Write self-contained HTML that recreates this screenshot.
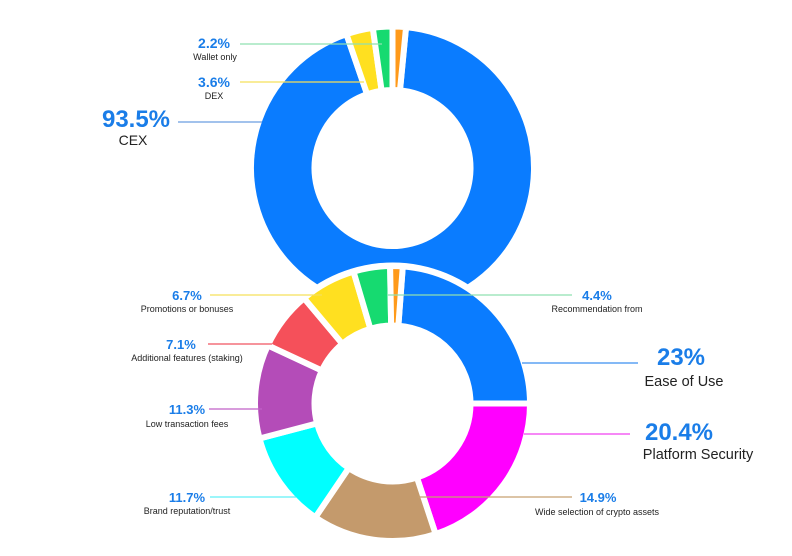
<!DOCTYPE html>
<html><head><meta charset="utf-8"><style>
html,body{margin:0;padding:0;background:#fff;}
svg{display:block;font-family:"Liberation Sans",sans-serif;}
.p{fill:#1a7de8;font-weight:bold;}
.l{fill:#222;}
</style></head><body>
<svg id="s" width="792" height="556" viewBox="0 0 792 556" xmlns="http://www.w3.org/2000/svg">
<g id="top"></g>
<circle cx="392.5" cy="403.5" r="141" fill="#fff"/>
<g id="bot"></g>
<g stroke-width="1.2">
<line x1="240" y1="44" x2="382" y2="44" stroke="#8fe0b0"/>
<line x1="240" y1="82" x2="364" y2="82" stroke="#f5e05a"/>
<line x1="178" y1="122" x2="262" y2="122" stroke="#6a9ee0"/>
<line x1="210" y1="295" x2="322" y2="295" stroke="#f5e05a"/>
<line x1="388" y1="295" x2="572" y2="295" stroke="#8fe0b0"/>
<line x1="208" y1="344" x2="272" y2="344" stroke="#f05560"/>
<line x1="522" y1="363" x2="638" y2="363" stroke="#3b8ff0"/>
<line x1="209" y1="409" x2="262" y2="409" stroke="#c060c8"/>
<line x1="524" y1="434" x2="630" y2="434" stroke="#f040f0"/>
<line x1="210" y1="497" x2="296" y2="497" stroke="#60f0f8"/>
<line x1="418" y1="497" x2="572" y2="497" stroke="#c8a070"/>
</g>
<text class="p" x="214" y="48" font-size="14" text-anchor="middle">2.2%</text>
<text class="l" x="215" y="60" font-size="9" text-anchor="middle">Wallet only</text>
<text class="p" x="214" y="87" font-size="14" text-anchor="middle">3.6%</text>
<text class="l" x="214" y="99" font-size="9" text-anchor="middle">DEX</text>
<text class="p" x="136" y="127" font-size="24" text-anchor="middle">93.5%</text>
<text class="l" x="133" y="145" font-size="14" text-anchor="middle">CEX</text>
<text class="p" x="187" y="300" font-size="13" text-anchor="middle">6.7%</text>
<text class="l" x="187" y="312" font-size="9" text-anchor="middle">Promotions or bonuses</text>
<text class="p" x="181" y="349" font-size="13" text-anchor="middle">7.1%</text>
<text class="l" x="187" y="361" font-size="9" text-anchor="middle">Additional features (staking)</text>
<text class="p" x="187" y="414" font-size="13" text-anchor="middle">11.3%</text>
<text class="l" x="187" y="427" font-size="9" text-anchor="middle">Low transaction fees</text>
<text class="p" x="187" y="502" font-size="13" text-anchor="middle">11.7%</text>
<text class="l" x="187" y="514" font-size="9" text-anchor="middle">Brand reputation/trust</text>
<text class="p" x="597" y="300" font-size="13" text-anchor="middle">4.4%</text>
<text class="l" x="597" y="312" font-size="9" text-anchor="middle">Recommendation from</text>
<text class="p" x="681" y="365" font-size="24" text-anchor="middle">23%</text>
<text class="l" x="684" y="386" font-size="14.5" text-anchor="middle">Ease of Use</text>
<text class="p" x="679" y="440" font-size="24" text-anchor="middle">20.4%</text>
<text class="l" x="698" y="459" font-size="14.5" text-anchor="middle">Platform Security</text>
<text class="p" x="598" y="502" font-size="13" text-anchor="middle">14.9%</text>
<text class="l" x="597" y="515" font-size="9" text-anchor="middle">Wide selection of crypto assets</text>
</svg>
<script>
function arc(cx,cy,r0,r1,a0,a1,col){
 function pt(r,a){a=(a-90)*Math.PI/180;return (cx+r*Math.cos(a)).toFixed(2)+","+(cy+r*Math.sin(a)).toFixed(2);}
 var lg=(a1-a0)>180?1:0;
 return '<path d="M'+pt(r1,a0)+' A'+r1+','+r1+' 0 '+lg+' 1 '+pt(r1,a1)+' L'+pt(r0,a1)+' A'+r0+','+r0+' 0 '+lg+' 0 '+pt(r0,a0)+' Z" fill="'+col+'" stroke="#fff" stroke-width="6" stroke-linejoin="miter"/>';
}
var t='';
var cx=392.5,cy=168;
t+=arc(cx,cy,78,141.5,5.5,341,'#0a7cff');
t+=arc(cx,cy,78,141.5,341,352,'#ffe020');
t+=arc(cx,cy,78,141.5,352,360,'#16da70');
t+=arc(cx,cy,78,141.5,360,365.5,'#ff9a1a');
document.getElementById('top').innerHTML=t;
var b='';cx=392.5;cy=403.5;
b+=arc(cx,cy,78,137.5,4.3,90,'#0a7cff');
var segs=[[20.4,'#ff00ff'],[14.9,'#c49a6c'],[11.7,'#00ffff'],[11.3,'#b44cb8'],[7.1,'#f5505a'],[6.7,'#ffe020'],[4.4,'#16da70']];
var a=90,k=269/76.5;
segs.forEach(function(s){var e=a+s[0]*k;b+=arc(cx,cy,78,137.5,a,e,s[1]);a=e;});
b+=arc(cx,cy,78,137.5,a,364.3,'#ff9a1a');
document.getElementById('bot').innerHTML=b;
</script>
</body></html>
